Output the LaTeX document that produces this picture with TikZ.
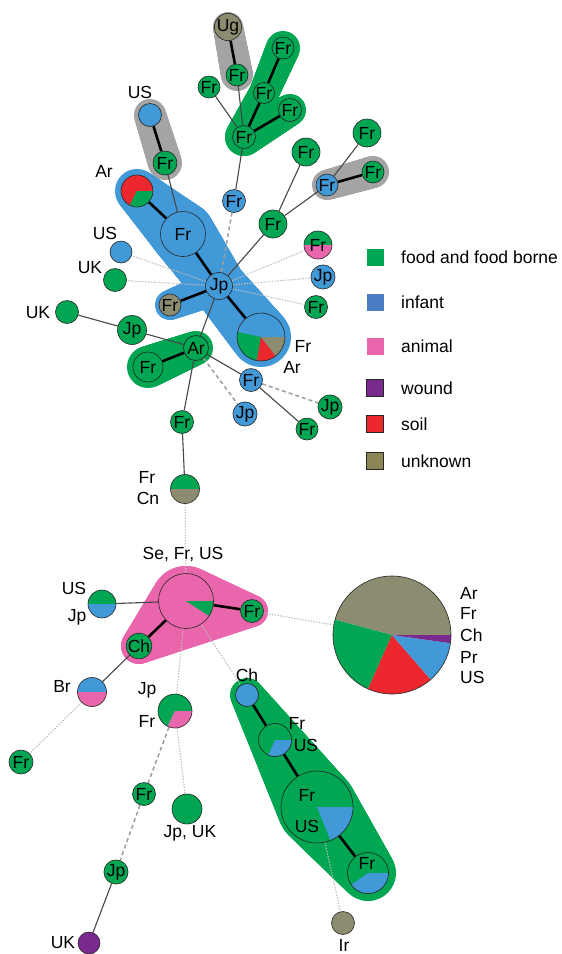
\documentclass[tikz,border=0pt]{standalone}
\usepackage{fontspec}
\setmainfont{Liberation Sans}
\definecolor{cgreen}{RGB}{0,166,81}
\definecolor{cblue}{RGB}{66,153,216}
\definecolor{cpink}{RGB}{234,102,172}
\definecolor{colive}{RGB}{140,140,112}
\definecolor{cred}{RGB}{236,40,46}
\definecolor{cpurple}{RGB}{122,42,142}
\definecolor{chull}{RGB}{164,164,164}
\definecolor{linfant}{RGB}{74,124,196}
\definecolor{lolive}{RGB}{140,134,86}
\pgfdeclarelayer{hull}
\pgfdeclarelayer{edges}
\pgfsetlayers{hull,edges,main}
% tapered hull segment: colour, x1,y1,r1, x2,y2,r2
\newcommand\hseg[7]{\foreach \i in {0,...,40}{\fill[#1] ({#2+(#5-#2)*\i/40},{#3+(#6-#3)*\i/40}) circle[radius={#4+(#7-#4)*\i/40}];}}
% pie wedge: x, y, r, a1, a2, colour
\newcommand\pw[6]{\fill[#6] (#1,#2) -- ++({-(#4)}:#3) arc[start angle={-(#4)}, end angle={-(#5)}, radius=#3] -- cycle;}
\begin{document}
\begin{tikzpicture}[x=1pt,y=-1pt,
  nd/.style={circle,draw=black!85,line width=0.6pt,inner sep=0pt,minimum size=#1pt,font=\fontsize{17.5}{19}\selectfont},
  gn/.style={nd=#1,fill=cgreen},
  bn/.style={nd=#1,fill=cblue},
  on/.style={nd=#1,fill=colive},
  pn/.style={nd=#1,fill=cpurple},
  pie/.style={nd=#1},
  lbl/.style={inner sep=0pt,font=\fontsize{17.5}{20}\selectfont},
  thk/.style={line width=2.6pt,black},
  thn/.style={line width=1.1pt,black!72},
  dsh/.style={line width=1.5pt,black!38,dash pattern=on 4pt off 3pt},
  dot/.style={line width=1.1pt,black!25,dash pattern=on 1.4pt off 1.4pt},
  lsq/.style={minimum size=17pt,inner sep=0pt},
  lsqb/.style={lsq,draw=black!85,line width=1pt},
  ltx/.style={lbl,anchor=west,font=\fontsize{17.5}{20}\selectfont}]
\useasboundingbox (0,0) rectangle (562,954);

% ---------------- pie wedges ----------------
\pw{137}{191}{16}{0}{243}{cred} \pw{137}{191}{16}{243}{360}{cgreen}
\pw{318}{245}{14}{0}{180}{cgreen} \pw{318}{245}{14}{180}{360}{cpink}
\pw{261}{337}{24}{0}{168}{cblue} \pw{261}{337}{24}{168}{260}{cgreen}
\pw{261}{337}{24}{260}{308}{cred} \pw{261}{337}{24}{308}{360}{colive}
\pw{185}{489}{14.5}{0}{180}{cgreen} \pw{185}{489}{14.5}{180}{360}{colive}
\pw{186}{601}{27.5}{0}{327}{cpink} \pw{186}{601}{27.5}{327}{360}{cgreen}
\pw{102}{604}{14}{0}{180}{cgreen} \pw{102}{604}{14}{180}{360}{cblue}
\pw{92}{692}{14.5}{0}{180}{cblue} \pw{92}{692}{14.5}{180}{360}{cpink}
\pw{175}{711}{17}{0}{245}{cgreen} \pw{175}{711}{17}{245}{360}{cpink}
\pw{275}{740}{16.5}{0}{246}{cgreen} \pw{275}{740}{16.5}{246}{360}{cblue}
\pw{317}{807}{36}{0}{292}{cgreen} \pw{317}{807}{36}{292}{360}{cblue}
\pw{368}{873}{20.5}{0}{215}{cgreen} \pw{368}{873}{20.5}{215}{360}{cblue}
\pw{392}{635}{59}{0}{165}{colive} \pw{392}{635}{59}{165}{246}{cgreen}
\pw{392}{635}{59}{246}{311}{cred} \pw{392}{635}{59}{311}{352}{cblue}
\pw{392}{635}{59}{352}{360}{cpurple}

% ---------------- nodes: upper tree ----------------
\node[on=22] (Ug) at (228,27) {Ug};
\node[gn=22] (FrU) at (237,75) {Fr};
\node[gn=22] (FrL) at (209,87) {Fr};
\node[gn=22] (FrT) at (283,48) {Fr};
\node[gn=21] (FrM) at (264,93) {Fr};
\node[gn=23] (FrR) at (290,110) {Fr};
\node[gn=23] (FrH) at (244,137) {Fr};
\node[bn=23] (USa) at (150,115) {};
\node[gn=24] (FrUS) at (165,163) {Fr};
\node[bn=23] (FrB) at (234,201) {Fr};
\node[gn=28] (FrG) at (273,224) {Fr};
\node[gn=28] (FrG2) at (306,152) {Fr};
\node[gn=28] (FrG3) at (367,133) {Fr};
\node[bn=22] (FrBl) at (327,185) {Fr};
\node[gn=22] (FrG4) at (373,172) {Fr};
\node[pie=32] (ArP) at (137,191) {};
\node[bn=45] (FrBig) at (183,234) {Fr};
\node[bn=27] (Jp) at (219,286) {Jp};
\node[bn=22] (USb) at (121,252) {};
\node[gn=23] (UKa) at (115,280) {};
\node[pie=28] (FrPk) at (318,245) {Fr};
\node[bn=22] (JpB) at (323,277) {Jp};
\node[gn=23] (FrG5) at (316,307) {Fr};
\node[on=22] (FrOl) at (170,305) {Fr};
\node[pie=48] (BigP) at (261,337) {};
\node[gn=23] (UKb) at (67,312) {};
\node[gn=29] (JpG) at (132,330) {Jp};
\node[gn=25] (Ar) at (196,348) {Ar};
\node[gn=30] (FrAr) at (148,367) {Fr};
\node[bn=23] (FrBl2) at (251,380) {Fr};
\node[bn=23] (JpB2) at (245,414) {Jp};
\node[gn=22] (JpG2) at (330,407) {Jp};
\node[gn=22] (FrG6) at (307,429) {Fr};
\node[gn=23] (FrG7) at (182,422) {Fr};
\node[pie=29] (FrCn) at (185,489) {};

% ---------------- nodes: lower tree ----------------
\node[pie=55] (Se) at (186,601) {};
\node[pie=28] (USJp) at (102,604) {};
\node[gn=23] (FrSe) at (252,611) {Fr};
\node[gn=23] (ChG) at (139,646) {Ch};
\node[pie=29] (Br) at (92,692) {};
\node[gn=24] (FrBr) at (21,762) {Fr};
\node[pie=34] (JpFr) at (175,711) {};
\node[bn=23] (ChB) at (247,695) {};
\node[pie=33] (SmP) at (275,740) {};
\node[pie=72] (BgP) at (317,807) {};
\node[pie=41] (BtP) at (368,873) {};
\node[on=23] (Ir) at (343,923) {};
\node[gn=23] (FrG8) at (144,794) {Fr};
\node[gn=30] (JpUK) at (187,809) {};
\node[gn=23] (JpG3) at (116,872) {Jp};
\node[pn=22] (UKp) at (89,943) {};
\node[pie=118] (BigPie) at (392,635) {};

% ---------------- labels ----------------
\node[lbl] (lUSa) at (140,92) {US};
\node[lbl] (lArP) at (104,171) {Ar};
\node[lbl] (lUSb) at (105,233) {US};
\node[lbl] (lUKa) at (90,268) {UK};
\node[lbl] (lUKb) at (38,313) {UK};
\node[lbl] (lBigP1) at (303,346) {Fr};
\node[lbl] (lBigP2) at (292,367) {Ar};
\node[lbl] (lCn1) at (147,477) {Fr};
\node[lbl] (lCn2) at (148,498) {Cn};
\node[lbl] (lSe) at (183,555) {Se, Fr, US};
\node[lbl] (lUSJp1) at (74,588) {US};
\node[lbl] (lUSJp2) at (77,617) {Jp};
\node[lbl] (lBr) at (62,686) {Br};
\node[lbl] (lJpFr1) at (147,690) {Jp};
\node[lbl] (lJpFr2) at (147,721) {Fr};
\node[lbl] (lChB) at (247,675) {Ch};
\node[lbl] (lSm1) at (297,723) {Fr};
\node[lbl] (lSm2) at (306,745) {US};
\node[lbl] (lBg1) at (307,795) {Fr};
\node[lbl] (lBg2) at (307,826) {US};
\node[lbl] (lBt) at (367,863) {Fr};
\node[lbl] (lJpUK) at (190,833) {Jp, UK};
\node[lbl] (lIr) at (344,945) {Ir};
\node[lbl] (lUKp) at (63,943) {UK};
\node[lbl,anchor=west] (lP1) at (460,593) {Ar};
\node[lbl,anchor=west] (lP2) at (460,613) {Fr};
\node[lbl,anchor=west] (lP3) at (460,635) {Ch};
\node[lbl,anchor=west] (lP4) at (460,657) {Pr};
\node[lbl,anchor=west] (lP5) at (460,677) {US};

% ---------------- legend ----------------
\node[lsq,fill=cgreen] (k1) at (375,257) {};
\node[lsq,fill=linfant] (k2) at (375,302) {};
\node[lsq,fill=cpink] (k3) at (375,346) {};
\node[lsqb,fill=cpurple] (k4) at (375,388) {};
\node[lsqb,fill=cred] (k5) at (375,424) {};
\node[lsqb,fill=lolive] (k6) at (375,461) {};
\node[ltx] (t1) at (401,257) {food and food borne};
\node[ltx] (t2) at (401,302) {infant};
\node[ltx] (t3) at (401,346) {animal};
\node[ltx] (t4) at (401,388) {wound};
\node[ltx] (t5) at (401,424) {soil};
\node[ltx] (t6) at (401,461) {unknown};

% ---------------- hulls ----------------
\begin{pgfonlayer}{hull}
\fill[white] (0,0) rectangle (562,954);
\hseg{chull}{228}{27}{15}{237}{75}{16}
\hseg{chull}{150}{115}{16}{165}{163}{17}
\hseg{chull}{327}{185}{15}{373}{172}{16}
\hseg{cgreen}{244}{137}{19}{264}{93}{15}
\hseg{cgreen}{264}{93}{15}{283}{48}{17}
\hseg{cgreen}{244}{137}{19}{290}{110}{16}
\hseg{cblue}{137}{191}{22}{183}{234}{32}
\hseg{cblue}{183}{234}{32}{219}{286}{27}
\hseg{cblue}{219}{286}{27}{261}{337}{30}
\hseg{cblue}{219}{286}{18}{170}{305}{15}
\hseg{cgreen}{196}{348}{17}{148}{367}{21}
\fill[cpink] (186,601) -- (252,611) -- (139,646) -- cycle;
\hseg{cpink}{186}{601}{35}{252}{611}{16}
\hseg{cpink}{252}{611}{16}{139}{646}{18}
\hseg{cpink}{139}{646}{18}{186}{601}{35}
\hseg{cgreen}{247}{695}{17}{317}{807}{40}
\hseg{cgreen}{317}{807}{40}{368}{873}{28}
\end{pgfonlayer}

% ---------------- connectors ----------------
\begin{pgfonlayer}{edges}
\draw[thk] (Ug) -- (FrU);
\draw[thk] (FrH) -- (FrM);
\draw[thk] (FrM) -- (FrT);
\draw[thk] (FrH) -- (FrR);
\draw[thk] (USa) -- (FrUS);
\draw[thk] (ArP) -- (FrBig);
\draw[thk] (FrBig) -- (Jp);
\draw[thk] (Jp) -- (BigP);
\draw[thk] (Jp) -- (FrOl);
\draw[thk] (FrBl) -- (FrG4);
\draw[thk] (Ar) -- (FrAr);
\draw[thk] (Se) -- (FrSe);
\draw[thk] (Se) -- (ChG);
\draw[thk] (ChB) -- (SmP);
\draw[thk] (SmP) -- (BgP);
\draw[thk] (BgP) -- (BtP);
\draw[thn] (FrU) -- (FrH);
\draw[thn] (FrL) -- (FrH);
\draw[thn] (FrH) -- (FrB);
\draw[thn] (FrUS) -- (FrBig);
\draw[thn] (Jp) -- (FrG);
\draw[thn] (FrG) -- (FrG2);
\draw[thn] (FrG) -- (FrBl);
\draw[thn] (FrBl) -- (FrG3);
\draw[thn] (Jp) -- (Ar);
\draw[thn] (UKb) -- (JpG);
\draw[thn] (JpG) -- (Ar);
\draw[thn] (Ar) -- (FrBl2);
\draw[thn] (FrBl2) -- (FrG6);
\draw[thn] (Ar) -- (FrG7);
\draw[thn] (FrG7) -- (FrCn);
\draw[thn] (Se) -- (USJp);
\draw[thn] (ChG) -- (Br);
\draw[thn] (JpG3) -- (UKp);
\draw[dsh] (FrB) -- (Jp);
\draw[dsh] (Ar) -- (JpB2);
\draw[dsh] (FrBl2) -- (JpG2);
\draw[dsh] (JpFr) -- (FrG8);
\draw[dsh] (FrG8) -- (JpG3);
\draw[dot] (Jp) -- (USb);
\draw[dot] (Jp) -- (UKa);
\draw[dot] (Jp) -- (FrPk);
\draw[dot] (Jp) -- (JpB);
\draw[dot] (Jp) -- (FrG5);
\draw[dot] (FrCn) -- (Se);
\draw[dot] (Br) -- (FrBr);
\draw[dot] (Se) -- (JpFr);
\draw[dot] (JpFr) -- (JpUK);
\draw[dot] (Se) -- (ChB);
\draw[dot] (BgP) -- (Ir);
\draw[dot] (FrSe) -- (BigPie);
\end{pgfonlayer}
\end{tikzpicture}
\end{document}
